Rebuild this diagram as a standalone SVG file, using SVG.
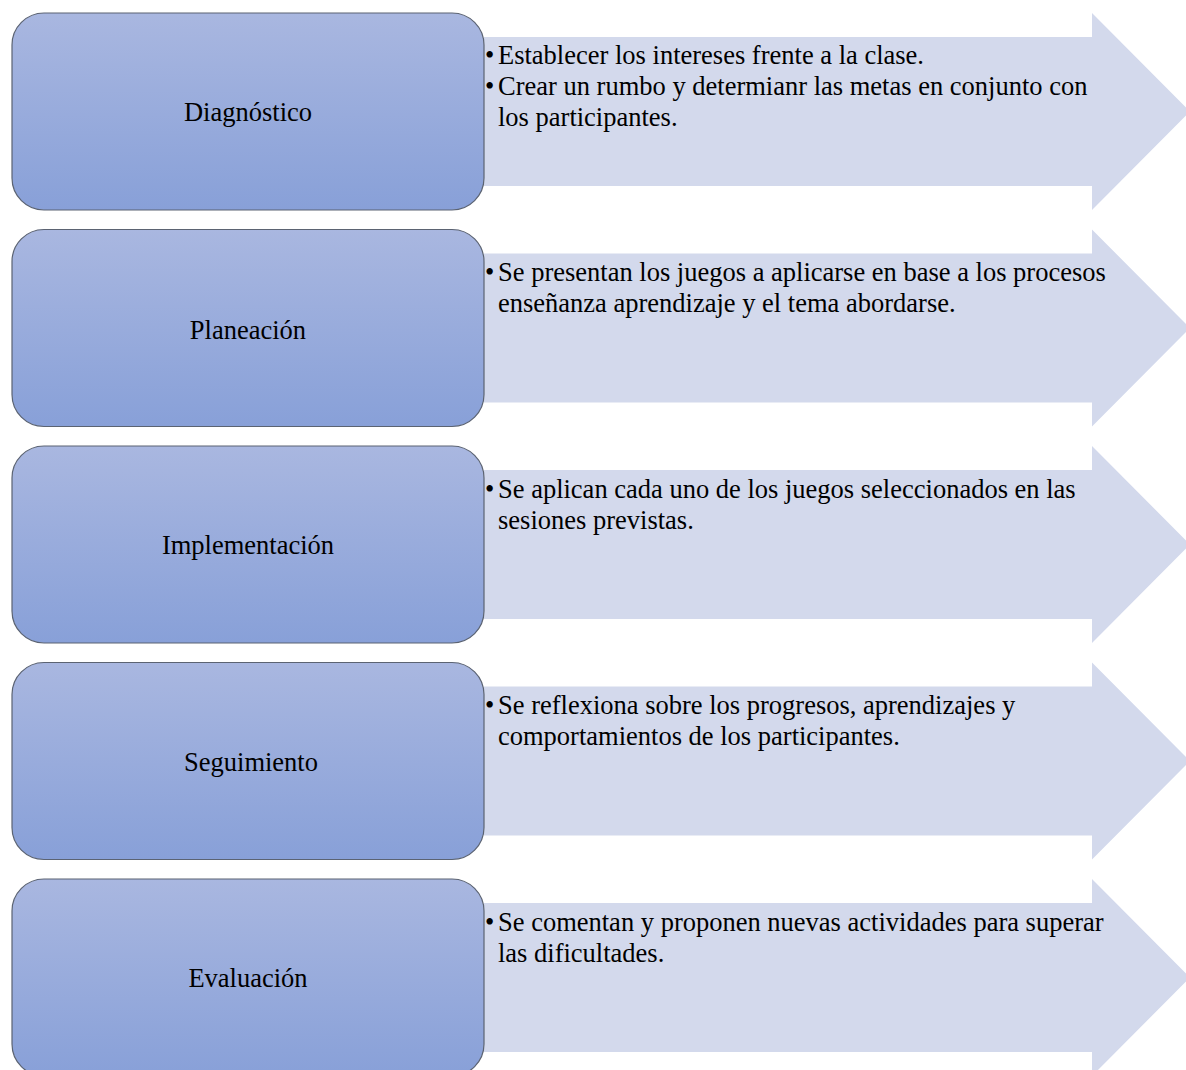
<svg xmlns="http://www.w3.org/2000/svg" width="1186" height="1070" viewBox="0 0 1186 1070">
<defs>
<linearGradient id="g" x1="0" y1="0" x2="0" y2="1">
<stop offset="0" stop-color="#a9b7e0"/>
<stop offset="1" stop-color="#88a0d8"/>
</linearGradient>
<path id="arr" d="M484,24 H1092 V0 L1190,98.5 L1092,197 V173 H484 Z"/>
</defs>
<style>
.arrow{fill:#d3d9ec}
.box{fill:url(#g);stroke:#5b6372;stroke-width:1.2}
.lbl{font-family:"Liberation Serif","Times New Roman",serif;font-size:26.5px;fill:#000;text-anchor:middle}
.txt{font-family:"Liberation Serif","Times New Roman",serif;font-size:26.5px;fill:#000}
.b{font-family:"Liberation Serif","Times New Roman",serif;font-size:26.5px;fill:#000}
</style>
<rect width="1186" height="1070" fill="#fff"/>
<g id="connectors">
<use href="#arr" class="arrow" transform="translate(0,13)"/>
<use href="#arr" class="arrow" transform="translate(0,229.5)"/>
<use href="#arr" class="arrow" transform="translate(0,446)"/>
<use href="#arr" class="arrow" transform="translate(0,662.5)"/>
<use href="#arr" class="arrow" transform="translate(0,879)"/>
</g>
<g id="node1">
<rect class="box" x="12" y="13" width="472" height="197" rx="32"/>
<text class="lbl" x="248" y="121">Diagnóstico</text>
<text class="b" x="485" y="64">•</text><text class="txt" x="498" y="64">Establecer los intereses frente a la clase.</text>
<text class="b" x="485" y="95">•</text><text class="txt" x="498" y="95">Crear un rumbo y determianr las metas en conjunto con</text>
<text class="txt" x="498" y="126">los participantes.</text>
</g>
<g id="node2">
<rect class="box" x="12" y="229.5" width="472" height="197" rx="32"/>
<text class="lbl" x="248" y="339">Planeación</text>
<text class="b" x="485" y="281">•</text><text class="txt" x="498" y="281">Se presentan los juegos a aplicarse en base a los procesos</text>
<text class="txt" x="498" y="312">enseñanza aprendizaje y el tema abordarse.</text>
</g>
<g id="node3">
<rect class="box" x="12" y="446" width="472" height="197" rx="32"/>
<text class="lbl" x="248" y="554">Implementación</text>
<text class="b" x="485" y="498">•</text><text class="txt" x="498" y="498">Se aplican cada uno de los juegos seleccionados en las</text>
<text class="txt" x="498" y="529">sesiones previstas.</text>
</g>
<g id="node4">
<rect class="box" x="12" y="662.5" width="472" height="197" rx="32"/>
<text class="lbl" x="251" y="771">Seguimiento</text>
<text class="b" x="485" y="714">•</text><text class="txt" x="498" y="714">Se reflexiona sobre los progresos, aprendizajes y</text>
<text class="txt" x="498" y="745">comportamientos de los participantes.</text>
</g>
<g id="node5">
<rect class="box" x="12" y="879" width="472" height="197" rx="32"/>
<text class="lbl" x="248" y="987">Evaluación</text>
<text class="b" x="485" y="931">•</text><text class="txt" x="498" y="931">Se comentan y proponen nuevas actividades para superar</text>
<text class="txt" x="498" y="962">las dificultades.</text>
</g>
</svg>
